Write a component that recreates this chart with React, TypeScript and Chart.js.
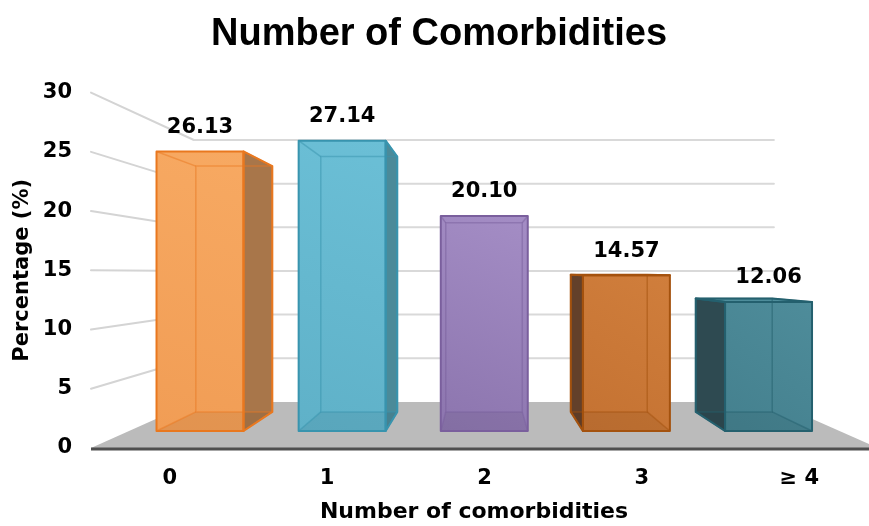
import React, { useEffect, useRef } from 'react';
import { Chart, registerables } from 'chart.js';

Chart.register(...registerables);

// ---- data ----
const CATEGORIES = ['0', '1', '2', '3', '≥ 4'];
const PERCENTAGES = [26.13, 27.14, 20.1, 14.57, 12.06];
const Y_TICKS = [0, 5, 10, 15, 20, 25, 30];

// ---- styling ----
const BAR_STYLES = [
  { light: '#F7A962', dark: '#F19D55', side: '#A8764A', top: '#F7AD68', edge: '#E9781F' },
  { light: '#6BBFD6', dark: '#5FB1C8', side: '#4B8A99', top: '#70C3D9', edge: '#3894AE' },
  { light: '#A48DC5', dark: '#8C75AE', side: '#6E5A8E', top: '#A892C8', edge: '#7A5F9D' },
  { light: '#D07E3C', dark: '#C47232', side: '#63402A', top: '#D3833F', edge: '#A4520E' },
  { light: '#4E8C9A', dark: '#44808E', side: '#2E4A51', top: '#4E8D9B', edge: '#24606E' },
];

const AXIS_FONT = '"DejaVu Sans", Verdana, sans-serif';
const TITLE_FONT = '"Liberation Sans", Arial, sans-serif';

// perspective: eye point as fraction of the plot area, and depth factors
// (1 = axis plane, smaller = further away)
const CAMERA = { xFrac: 0.497, yFrac: 0.507 };
const DEPTH_BAR_FRONT = 0.903;
const DEPTH_BAR_BACK = 0.794;
const DEPTH_WALL = 0.737;

type Pt = [number, number];

function project(cam: { x: number; y: number }, x: number, y: number, d: number): Pt {
  return [cam.x + d * (x - cam.x), cam.y + d * (y - cam.y)];
}

function polygon(ctx: CanvasRenderingContext2D, pts: Pt[]) {
  ctx.beginPath();
  ctx.moveTo(pts[0][0], pts[0][1]);
  for (let i = 1; i < pts.length; i++) ctx.lineTo(pts[i][0], pts[i][1]);
  ctx.closePath();
}

function segment(ctx: CanvasRenderingContext2D, a: Pt, b: Pt) {
  ctx.beginPath();
  ctx.moveTo(a[0], a[1]);
  ctx.lineTo(b[0], b[1]);
  ctx.stroke();
}

function cameraOf(chart: any) {
  const a = chart.chartArea;
  return {
    x: a.left + CAMERA.xFrac * (a.right - a.left),
    y: a.top + CAMERA.yFrac * (a.bottom - a.top),
  };
}

function drawBox(ctx: CanvasRenderingContext2D, cam: { x: number; y: number }, el: any, i: number) {
  const { x, y, base, width } = el.getProps(['x', 'y', 'base', 'width'], true);
  const xL = x - width / 2;
  const xR = x + width / 2;
  const yT = Math.min(y, base);
  const yB = Math.max(y, base);
  const F = (px: number, py: number) => project(cam, px, py, DEPTH_BAR_FRONT);
  const B = (px: number, py: number) => project(cam, px, py, DEPTH_BAR_BACK);
  const ftl = F(xL, yT), ftr = F(xR, yT), fbr = F(xR, yB), fbl = F(xL, yB);
  const btl = B(xL, yT), btr = B(xR, yT), bbr = B(xR, yB), bbl = B(xL, yB);
  const c = BAR_STYLES[i % BAR_STYLES.length];

  ctx.save();
  ctx.lineJoin = 'round';

  const sides: Pt[][] = [];
  if (xL > cam.x) sides.push([ftl, btl, bbl, fbl]);
  if (xR < cam.x) sides.push([ftr, btr, bbr, fbr]);
  for (const s of sides) {
    polygon(ctx, s);
    ctx.fillStyle = c.side;
    ctx.fill();
  }
  const topVisible = yT > cam.y;
  if (topVisible) {
    polygon(ctx, [ftl, ftr, btr, btl]);
    ctx.fillStyle = c.top;
    ctx.fill();
  }

  // front face
  const g = ctx.createLinearGradient(ftr[0], ftr[1], fbl[0], fbl[1]);
  g.addColorStop(0, c.light);
  g.addColorStop(1, c.dark);
  polygon(ctx, [ftl, ftr, fbr, fbl]);
  ctx.fillStyle = g;
  ctx.fill();

  // inner floor of the box, seen through the glassy faces
  polygon(ctx, [fbl, fbr, bbr, bbl]);
  ctx.fillStyle = 'rgba(0,0,0,0.06)';
  ctx.fill();

  // hidden edges
  ctx.strokeStyle = c.edge;
  ctx.globalAlpha = 0.5;
  ctx.lineWidth = 1.5;
  polygon(ctx, [btl, btr, bbr, bbl]);
  ctx.stroke();
  segment(ctx, ftl, btl);
  segment(ctx, ftr, btr);
  segment(ctx, fbr, bbr);
  segment(ctx, fbl, bbl);
  ctx.globalAlpha = 1;

  // visible outlines
  ctx.lineWidth = 2;
  for (const s of sides) {
    polygon(ctx, s);
    ctx.stroke();
  }
  if (topVisible) {
    polygon(ctx, [ftl, ftr, btr, btl]);
    ctx.stroke();
  }
  polygon(ctx, [ftl, ftr, fbr, fbl]);
  ctx.stroke();
  ctx.restore();

  return { labelX: (ftl[0] + ftr[0]) / 2, labelY: ftl[1] };
}

const perspectivePlugin = {
  id: 'perspective3d',
  beforeDatasetsDraw(chart: any) {
    const { ctx, chartArea: a, scales } = chart;
    const yScale = scales.y;
    const cam = cameraOf(chart);
    ctx.save();
    ctx.lineCap = 'round';

    // gridlines on side wall and back wall
    for (const t of yScale.ticks) {
      if (t.value === 0) continue;
      const py = yScale.getPixelForValue(t.value);
      const wl = project(cam, a.left, py, DEPTH_WALL);
      const wr = project(cam, a.right, py, DEPTH_WALL);
      ctx.strokeStyle = '#D4D4D4';
      ctx.lineWidth = 2;
      segment(ctx, [a.left, py], wl);
      ctx.strokeStyle = '#D9D9D9';
      segment(ctx, wl, wr);
    }

    // floor
    const y0 = yScale.getPixelForValue(0);
    polygon(ctx, [
      [a.left, y0],
      project(cam, a.left, y0, DEPTH_WALL),
      project(cam, a.right, y0, DEPTH_WALL),
      [a.right, y0],
    ]);
    ctx.fillStyle = '#BBBBBB';
    ctx.fill();
    ctx.lineCap = 'butt';
    ctx.strokeStyle = '#4F4F4F';
    ctx.lineWidth = 3;
    segment(ctx, [a.left, y0 + 1], [a.right, y0 + 1]);
    ctx.restore();
  },
  afterDatasetsDraw(chart: any) {
    const { ctx } = chart;
    const cam = cameraOf(chart);
    const meta = chart.getDatasetMeta(0);
    const values = chart.data.datasets[0].data as number[];
    meta.data.forEach((el: any, i: number) => {
      const { labelX, labelY } = drawBox(ctx, cam, el, i);
      ctx.save();
      ctx.font = `bold 21px ${AXIS_FONT}`;
      ctx.fillStyle = '#000';
      ctx.textAlign = 'center';
      ctx.textBaseline = 'middle';
      ctx.fillText(values[i].toFixed(2), labelX, labelY - 24);
      ctx.restore();
    });
  },
  afterDraw(chart: any, _args: any, opts: any) {
    const { ctx } = chart;
    ctx.save();
    ctx.font = `bold 22px ${AXIS_FONT}`;
    ctx.fillStyle = '#000';
    ctx.textAlign = 'center';
    ctx.textBaseline = 'middle';
    ctx.fillText(opts.text, opts.x, opts.y);
    ctx.restore();
  },
};

export default function App() {
  const canvasRef = useRef<HTMLCanvasElement | null>(null);

  useEffect(() => {
    if (!canvasRef.current) return;
    const chart = new Chart(canvasRef.current, {
      type: 'bar',
      data: {
        labels: CATEGORIES,
        datasets: [
          {
            label: 'Percentage',
            data: PERCENTAGES,
            backgroundColor: 'rgba(0,0,0,0)',
            borderWidth: 0,
            categoryPercentage: 1,
            barPercentage: 0.612,
          },
        ],
      },
      options: {
        responsive: false,
        animation: false,
        devicePixelRatio: 1,
        layout: { padding: { left: 0, right: 2, top: 0, bottom: 0 } },
        plugins: {
          legend: { display: false },
          tooltip: { enabled: false },
          title: {
            display: true,
            text: 'Number of Comorbidities',
            color: '#000',
            font: { family: TITLE_FONT, size: 38, weight: 'bold' },
            padding: { top: 12, bottom: 35 },
          },
          perspective3d: { text: 'Number of comorbidities', x: 474, y: 512 },
        } as any,
        scales: {
          x: {
            grid: { display: false, drawTicks: false, tickLength: 0 },
            border: { display: false },
            ticks: {
              color: '#000',
              font: { family: AXIS_FONT, size: 21, weight: 'bold' },
              padding: 18,
              maxRotation: 0,
            },
            afterFit: (s: any) => {
              s.height = 78;
            },
          },
          y: {
            min: 0,
            max: 30,
            grid: { display: false, drawTicks: false, tickLength: 0 },
            border: { display: false },
            afterBuildTicks: (s: any) => {
              s.ticks = Y_TICKS.map((v) => ({ value: v }));
            },
            ticks: {
              color: '#000',
              font: { family: AXIS_FONT, size: 21, weight: 'bold' },
              padding: 19,
            },
            title: {
              display: true,
              text: 'Percentage (%)',
              color: '#000',
              font: { family: AXIS_FONT, size: 21, weight: 'bold' },
              padding: { top: 10, bottom: 0 },
            },
            afterFit: (s: any) => {
              s.width = 91;
            },
          },
        },
      },
      plugins: [perspectivePlugin],
    });
    return () => chart.destroy();
  }, []);

  return (
    <div
      style={{
        position: 'absolute',
        left: 0,
        top: 0,
        width: 869,
        height: 526,
        overflow: 'hidden',
        background: '#fff',
      }}
    >
      <canvas ref={canvasRef} width={880} height={526} style={{ display: 'block' }} />
    </div>
  );
}
